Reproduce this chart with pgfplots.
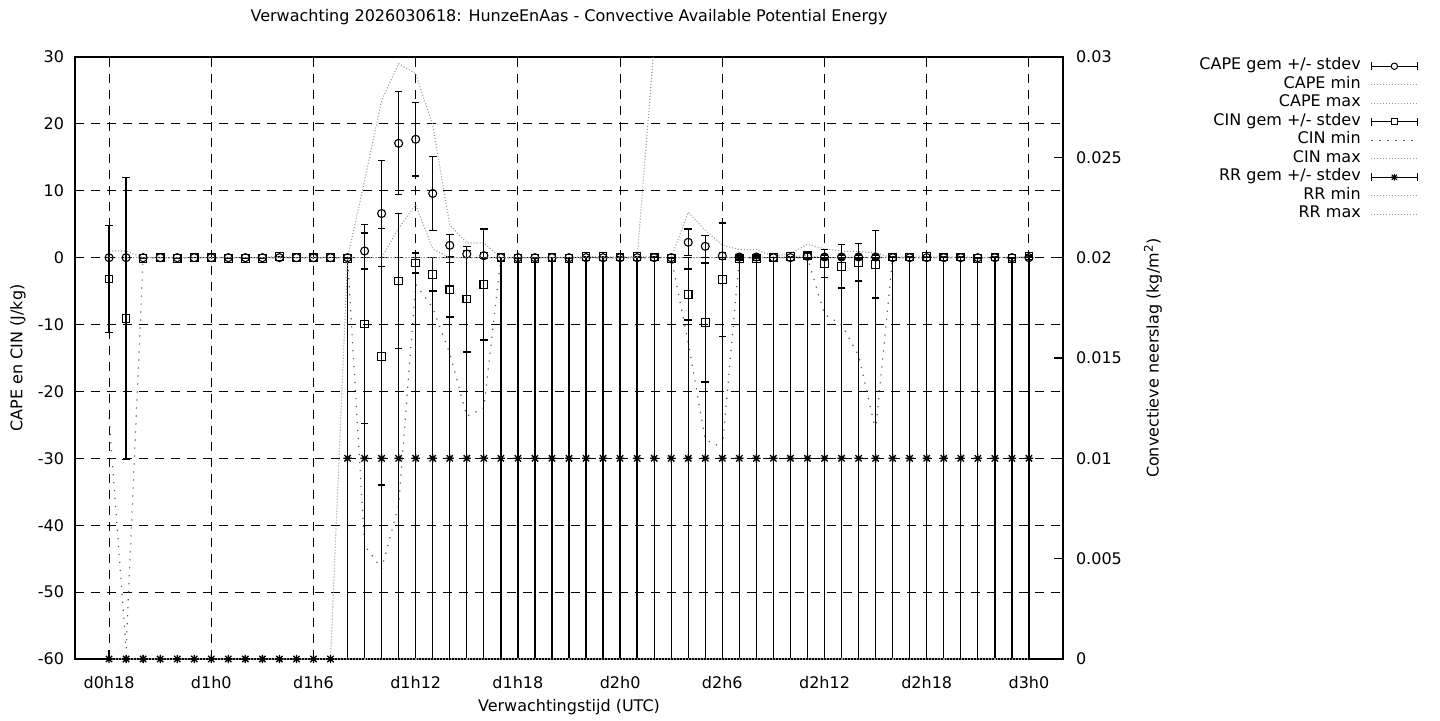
\documentclass[border=0pt]{standalone}
\usepackage{fontspec}
\setmainfont{DejaVu Sans}
\usepackage{pgfplots}
\usepackage{pgfplotstable}
\pgfplotsset{compat=1.18}
\newcommand\gfont{\fontsize{8}{9.6}\selectfont}

\pgfdeclareplotmark{plusx}{%
  \pgfpathmoveto{\pgfqpoint{-\pgfplotmarksize}{0pt}}%
  \pgfpathlineto{\pgfqpoint{\pgfplotmarksize}{0pt}}%
  \pgfpathmoveto{\pgfqpoint{0pt}{-\pgfplotmarksize}}%
  \pgfpathlineto{\pgfqpoint{0pt}{\pgfplotmarksize}}%
  \pgfpathmoveto{\pgfqpoint{-0.75\pgfplotmarksize}{-0.75\pgfplotmarksize}}%
  \pgfpathlineto{\pgfqpoint{0.75\pgfplotmarksize}{0.75\pgfplotmarksize}}%
  \pgfpathmoveto{\pgfqpoint{-0.75\pgfplotmarksize}{0.75\pgfplotmarksize}}%
  \pgfpathlineto{\pgfqpoint{0.75\pgfplotmarksize}{-0.75\pgfplotmarksize}}%
  \pgfusepathqstroke}

\pgfplotsset{
  lightdot/.style={black!40, mark=none, line width=0.55pt, dash pattern=on 0.5pt off 1pt},
  cinmin/.style={black!65, mark=none, line width=0.6pt, dash pattern=on 0.6pt off 3.4pt},
  ebar/.style={error bars/y dir=both, error bars/y explicit, error bars/error mark=|,
    error bars/error bar style={black, line width=0.65pt, solid},
    error bars/error mark options={black, mark size=1.9pt, line width=0.65pt, solid}},
}

% hour  mean  stdev  min  max
\pgfplotstableread{
h m s lo hi
18 0 0 0 1.0
19 0 0 0 1.0
20 0 0 0 0
21 0 0 0 0
22 0 0 0 0
23 0 0 0 0
24 0 0 0 0
25 0 0 0 0
26 0 0 0 0
27 0 0 0 0
28 0 0 0 0
29 0 0 0 0
30 0 0 0 0
31 0 0 0 0
32 0 0 0 0
33 1.0 2.7 0 11.5
34 6.6 7.9 0 23.5
35 17.1 7.7 4.4 29.0
36 17.7 5.5 7.9 27.5
37 9.6 5.5 1.3 19.8
38 1.85 1.65 0 4.9
39 0.55 0.55 0 2.2
40 0.3 0.45 0 2.2
41 0 0 0 0
42 0 0 0 0
43 0 0 0 0
44 0 0 0 0
45 0 0 0 0
46 0 0 0 0
47 0 0 0 0
48 0 0 0 0
49 0 0 0 0
50 0 0 0 0
51 0 0 0 0
52 2.3 2.0 0 6.8
53 1.7 1.65 0 4.1
54 0.25 0.5 0 1.9
55 0.1 0.3 0 1.2
56 0.1 0.2 0 1.2
57 0 0 0 0.2
58 0 0 0 0.6
59 0.2 0.5 0 2.0
60 0.1 0.3 0 1.3
61 0.1 0.3 0 1.0
62 0.1 0.3 0 0.9
63 0.1 0.3 0 0.7
64 0 0 0 0
65 0 0 0 0
66 0 0 0 0
67 0 0 0 0
68 0 0 0 0
69 0 0 0 0
70 0 0 0 0
71 0 0 0 0
72 0 0 0 0
}\capedata

\pgfplotstableread{
h m s lo hi
18 -3.2 8.0 -24 0
19 -9.1 21.1 -58.5 0
20 -0.1 0 0 0
21 0 0 0 0
22 -0.1 0 0 0
23 0 0 0 0
24 0 0 0 0
25 -0.1 0 0 0
26 -0.1 0 0 0
27 -0.1 0 0 0
28 0.2 0 0 0.2
29 0 0 0 0
30 0 0 0 0
31 0 0 0 0
32 -0.1 0 0 0
33 -9.9 14.9 -43 0
34 -14.8 19.2 -46.5 0
35 -3.5 10.1 -37 0
36 -0.8 1.5 -4 0
37 -2.5 2.5 -7.5 0
38 -4.8 4.05 -14.3 0
39 -6.2 7.9 -23.7 0
40 -4.0 8.3 -22.5 0
41 0 0 0 0
42 -0.1 0 0 0
43 -0.1 0 0 0
44 0 0 0 0
45 -0.1 0 0 0
46 0.15 0 0 0.15
47 0.15 0 0 0.15
48 0.1 0 0 0.1
49 0.15 0 0 0.15
50 0.1 0 0 0.1
51 -0.1 0 0 0
52 -5.5 3.8 -12.7 0
53 -9.7 8.9 -27.2 0
54 -3.3 8.5 -28.4 0
55 -0.1 0.3 0 0
56 -0.1 0.3 0 0
57 0 0 0 0
58 0.15 0 0 0.15
59 0.3 0.5 0 0.3
60 -0.85 2.1 -8.5 0
61 -1.3 3.25 -10 0
62 -0.7 2.8 -14.6 0
63 -1.0 5.05 -25.8 0
64 0.1 0 0 0.1
65 0.1 0 0 0.1
66 0.15 0 0 0.15
67 0.1 0 0 0.1
68 0.1 0 0 0.1
69 -0.1 0 0 0
70 0.1 0 0 0.1
71 -0.1 0 0 0
72 0.25 0 0 0.25
}\cindata

\pgfplotstableread{
h m s lo hi
18 0 0 0 0
19 0 0 0 0
20 0 0 0 0
21 0 0 0 0
22 0 0 0 0
23 0 0 0 0
24 0 0 0 0
25 0 0 0 0
26 0 0 0 0
27 0 0 0 0
28 0 0 0 0
29 0 0 0 0
30 0 0 0 0
31 0 0 0 0
32 0.01 0.01 0 0.02
33 0.01 0.01 0 0.02
34 0.01 0.01 0 0.02
35 0.01 0.01 0 0.02
36 0.01 0.01 0 0.02
37 0.01 0.01 0 0.02
38 0.01 0.01 0 0.02
39 0.01 0.01 0 0.02
40 0.01 0.01 0 0.02
41 0.01 0.01 0 0.02
42 0.01 0.01 0 0.02
43 0.01 0.01 0 0.02
44 0.01 0.01 0 0.02
45 0.01 0.01 0 0.02
46 0.01 0.01 0 0.02
47 0.01 0.01 0 0.02
48 0.01 0.01 0 0.02
49 0.01 0.01 0 0.02
50 0.01 0.01 0 0.0306
51 0.01 0.01 0 0.0306
52 0.01 0.01 0 0.0306
53 0.01 0.01 0 0.0306
54 0.01 0.01 0 0.0306
55 0.01 0.01 0 0.0306
56 0.01 0.01 0 0.0306
57 0.01 0.01 0 0.0306
58 0.01 0.01 0 0.0306
59 0.01 0.01 0 0.0306
60 0.01 0.01 0 0.0306
61 0.01 0.01 0 0.0306
62 0.01 0.01 0 0.0306
63 0.01 0.01 0 0.0306
64 0.01 0.01 0 0.0306
65 0.01 0.01 0 0.0306
66 0.01 0.01 0 0.0306
67 0.01 0.01 0 0.0306
68 0.01 0.01 0 0.0306
69 0.01 0.01 0 0.0306
70 0.01 0.01 0 0.0306
71 0.01 0.01 0 0.0306
72 0.01 0.01 0 0.0306
}\rrdata

\begin{document}
\begin{tikzpicture}
\path[use as bounding box] (0pt,0pt) rectangle (720pt,360pt);
\begin{axis}[
  at={(37.5pt,30.5pt)}, anchor=south west,
  scale only axis, width=494pt, height=301pt,
  xmin=16, xmax=74, ymin=-60, ymax=30,
  xtick={18,24,30,36,42,48,54,60,66,72},
  xticklabels={d0h18,d1h0,d1h6,d1h12,d1h18,d2h0,d2h6,d2h12,d2h18,d3h0},
  ytick={-60,-50,-40,-30,-20,-10,0,10,20,30},
  yticklabels={-60,-50,-40,-30,-20,-10,0,10,20,30},
  xtick pos=bottom, ytick pos=left, tick align=inside,
  major tick length=4.5pt,
  tick style={black, line width=0.6pt},
  axis line style={black, line width=0.75pt},
  grid=major,
  major grid style={black, line width=0.5pt, dash pattern=on 4.5pt off 3.5pt},
  tick label style={font=\gfont},
  xticklabel style={yshift=-5pt},
  yticklabel style={xshift=-2pt},
  label style={font=\gfont},
  title={Verwachting 2026030618: HunzeEnAas - Convective Available Potential Energy},
  title style={font=\gfont, at={(axis description cs:0.5,1.0465)}, anchor=center},
  xlabel={Verwachtingstijd (UTC)},
  xlabel style={at={(axis description cs:0.5,-0.0797)}, anchor=center},
  ylabel={CAPE en CIN (J/kg)},
  ylabel style={at={(axis description cs:-0.0577,0.5)}, anchor=center},
]
\addplot[black, only marks, mark=o, mark size=2pt, mark options={solid, fill=white, line width=0.55pt}, ebar] table[x=h, y=m, y error=s] {\capedata};
\addplot[lightdot] table[x=h, y=lo] {\capedata};
\addplot[lightdot] table[x=h, y=hi] {\capedata};
\addplot[black, only marks, mark=square, mark size=1.9pt, mark options={solid, fill=white, line width=0.55pt}, ebar] table[x=h, y=m, y error=s] {\cindata};
\addplot[cinmin] table[x=h, y=lo] {\cindata};
\addplot[lightdot] table[x=h, y=hi] {\cindata};
\end{axis}

\begin{axis}[
  at={(37.5pt,30.5pt)}, anchor=south west,
  scale only axis, width=494pt, height=301pt,
  xmin=16, xmax=74, ymin=0, ymax=0.03,
  axis x line=none, axis y line*=right,
  scaled y ticks=false,
  ytick={0,0.005,0.01,0.015,0.02,0.025,0.03},
  yticklabels={0,0.005,0.01,0.015,0.02,0.025,0.03},
  tick align=inside, major tick length=4.5pt,
  tick style={black, line width=0.6pt},
  axis line style={black, line width=0.75pt},
  tick label style={font=\gfont},
  yticklabel style={xshift=3pt},
  label style={font=\gfont},
  ylabel={Convectieve neerslag (kg/m\textsuperscript{2})},
  ylabel style={at={(axis description cs:1.0911,0.5)}, anchor=center},
  legend plot pos=right,
  legend cell align=right,
  legend style={at={(axis description cs:1.3593,1)}, anchor=north east,
    draw=none, fill=none, font=\gfont, inner sep=0pt, outer sep=0pt,
    column sep=5pt, row sep=0pt,
    nodes={inner sep=0pt, text height=6.3pt, text depth=2.95pt}},
]
\addplot[black, forget plot, only marks, mark=plusx, mark size=2.1pt, mark options={solid, line width=0.65pt}, ebar] table[x=h, y=m, y error=s] {\rrdata};
\addplot[lightdot, forget plot] table[x=h, y=lo] {\rrdata};
\addplot[lightdot, forget plot] table[x=h, y=hi] {\rrdata};

\addlegendimage{black, legend image code/.code={%
  \draw[black, line width=0.6pt, solid] (0pt,0pt) -- (23pt,0pt) (0pt,-1.9pt) -- (0pt,1.9pt) (23pt,-1.9pt) -- (23pt,1.9pt);
  \draw[black, line width=0.5pt, solid, fill=white] (11.5pt,0pt) circle (1.6pt);}}
\addlegendentry{CAPE gem +/- stdev}
\addlegendimage{lightdot, legend image code/.code={\draw (0pt,0pt) -- (23pt,0pt);}}
\addlegendentry{CAPE min}
\addlegendimage{lightdot, legend image code/.code={\draw (0pt,0pt) -- (23pt,0pt);}}
\addlegendentry{CAPE max}
\addlegendimage{black, legend image code/.code={%
  \draw[black, line width=0.6pt, solid] (0pt,0pt) -- (23pt,0pt) (0pt,-1.9pt) -- (0pt,1.9pt) (23pt,-1.9pt) -- (23pt,1.9pt);
  \draw[black, line width=0.5pt, solid, fill=white] (9.9pt,-1.6pt) rectangle (13.1pt,1.6pt);}}
\addlegendentry{CIN gem +/- stdev}
\addlegendimage{cinmin, legend image code/.code={\draw (0pt,0pt) -- (23pt,0pt);}}
\addlegendentry{CIN min}
\addlegendimage{lightdot, legend image code/.code={\draw (0pt,0pt) -- (23pt,0pt);}}
\addlegendentry{CIN max}
\addlegendimage{black, legend image code/.code={%
  \draw[black, line width=0.6pt, solid] (0pt,0pt) -- (23pt,0pt) (0pt,-1.9pt) -- (0pt,1.9pt) (23pt,-1.9pt) -- (23pt,1.9pt);
  \draw[black, line width=0.55pt, solid] (9.8pt,0pt) -- (13.2pt,0pt) (11.5pt,-1.7pt) -- (11.5pt,1.7pt) (10.2pt,-1.3pt) -- (12.8pt,1.3pt) (10.2pt,1.3pt) -- (12.8pt,-1.3pt);}}
\addlegendentry{RR gem +/- stdev}
\addlegendimage{lightdot, legend image code/.code={\draw (0pt,0pt) -- (23pt,0pt);}}
\addlegendentry{RR min}
\addlegendimage{lightdot, legend image code/.code={\draw (0pt,0pt) -- (23pt,0pt);}}
\addlegendentry{RR max}
\end{axis}
\end{tikzpicture}
\end{document}
